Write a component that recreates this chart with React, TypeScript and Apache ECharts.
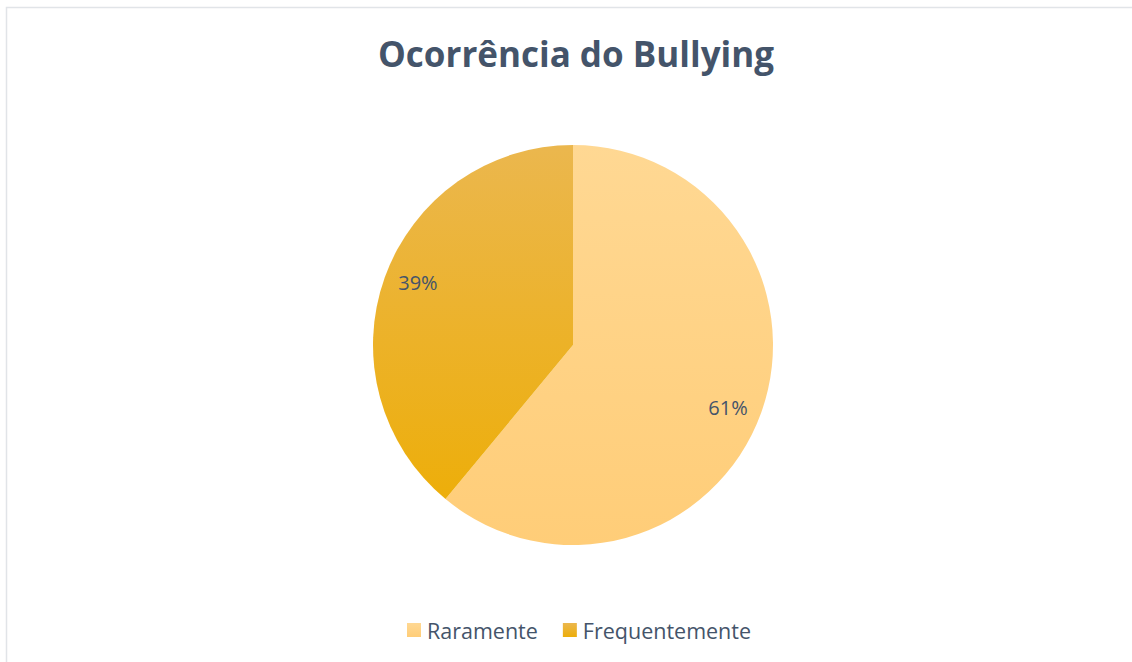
import React, { useEffect, useRef } from "react";
import * as echarts from "echarts";

const titleText = "Ocorrência do Bullying";
const categories = ["Raramente", "Frequentemente"];
const values = [61, 39];
const topColors = ["#FFD893", "#EBB74E"];
const bottomColors = ["#FFCD78", "#EDAE0A"];

export default function App() {
  const ref = useRef<HTMLDivElement>(null);
  useEffect(() => {
    const chart = echarts.init(ref.current!, undefined, { renderer: "svg" });
    const data = categories.map((name, i) => ({
      name,
      value: values[i],
      itemStyle: {
        color: new echarts.graphic.LinearGradient(0, 0, 0, 1, [
          { offset: 0, color: topColors[i] },
          { offset: 1, color: bottomColors[i] },
        ]),
      },
    }));
    const fontFamily = "'Open Sans', Lato, sans-serif";
    chart.setOption({
      animation: false,
      backgroundColor: "#FFFFFF",
      title: {
        text: titleText,
        left: 571,
        textAlign: "center",
        top: 31,
        textStyle: {
          fontFamily,
          fontWeight: "bold",
          fontSize: 35,
          color: "#44546A",
        },
      },
      graphic: [
        {
          type: "rect",
          shape: { x: 6.5, y: 7.5, width: 1200, height: 700 },
          style: { fill: "none", stroke: "#E1E4E8", lineWidth: 1.5 },
          silent: true,
        },
      ],
      legend: {
        data: categories,
        left: 402,
        top: 614,
        itemWidth: 14,
        itemHeight: 14,
        itemGap: 25,
        icon: "rect",
        textStyle: { fontFamily, fontSize: 21.5, color: "#44546A", padding: [0, 0, 0, 1] },
      },
      series: [
        {
          type: "pie",
          center: [573, 345],
          radius: [0, 200],
          startAngle: 90,
          clockwise: true,
          data,
          label: { show: false },
          labelLine: { show: false },
          silent: true,
        },
        {
          type: "pie",
          center: [573, 345],
          radius: [128, 200],
          startAngle: 88,
          clockwise: true,
          data: categories.map((name, i) => ({ name, value: values[i] })),
          itemStyle: { color: "rgba(0,0,0,0)" },
          label: {
            show: true,
            position: "inside",
            formatter: "{c}%",
            fontFamily,
            fontSize: 20,
            color: "#44546A",
          },
          labelLine: { show: false },
          silent: true,
          legendHoverLink: false,
        },
      ],
    });
    return () => chart.dispose();
  }, []);
  return (
    <div
      ref={ref}
      style={{ position: "absolute", left: 0, top: 0, width: 1132, height: 662 }}
    />
  );
}
